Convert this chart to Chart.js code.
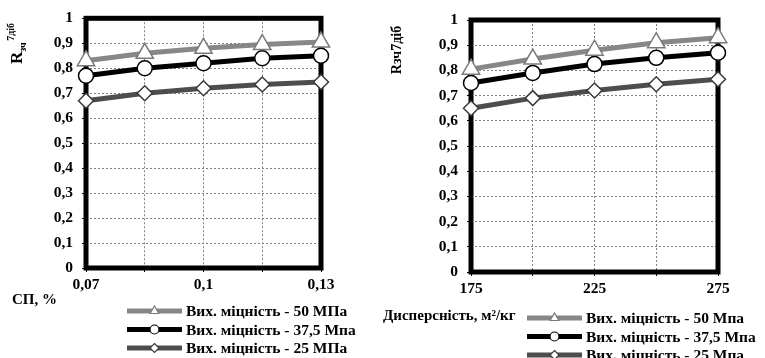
<!DOCTYPE html>
<html>
<head>
<meta charset="utf-8">
<script src="https://cdn.jsdelivr.net/npm/chart.js@4"></script>
<style>
  body { margin: 0; background: #fff; }
  canvas { position: absolute; top: 0; }
</style>
</head>
<body>
<canvas id="chartSP" width="380" height="358" style="left:0"></canvas>
<canvas id="chartDisp" width="385" height="358" style="left:380px"></canvas>
<script>
/* two charts: relative strength vs SP dose and vs dispersity */

let sp_values = [0.07, 0.085, 0.1, 0.115, 0.13];
let sp_tick_labels = ["0,07", "", "0,1", "", "0,13"];
let sp_50 = [0.83, 0.86, 0.88, 0.895, 0.905];
let sp_375 = [0.77, 0.80, 0.82, 0.84, 0.85];
let sp_25 = [0.67, 0.70, 0.72, 0.735, 0.745];
let sp_names = ["Вих. міцність - 50 МПа", "Вих. міцність - 37,5 Мпа", "Вих. міцність - 25 МПа"];

let disp_values = [175, 200, 225, 250, 275];
let disp_tick_labels = ["175", "", "225", "", "275"];
let disp_50 = [0.805, 0.845, 0.88, 0.91, 0.93];
let disp_375 = [0.75, 0.79, 0.825, 0.85, 0.87];
let disp_25 = [0.65, 0.69, 0.72, 0.745, 0.765];
let disp_names = ["Вих. міцність - 50 Мпа", "Вих. міцність - 37,5 Мпа", "Вих. міцність - 25 Мпа"];

const FONT = "'Liberation Serif', 'Times New Roman', serif";

let styles = [
  { color: "#878787", point: "triangle", radius: 10, edge: "#7a7a7a", small: 5 },
  { color: "#000000", point: "circle", radius: 7.5, edge: "#000000", small: 4.5 },
  { color: "#4d4d4d", point: "rectRot", radius: 7.5, edge: "#3a3a3a", small: 4.5 },
];

function make_datasets(names, series) {
  return series.map(function (vals, i) {
    let s = styles[i];
    return {
      label: names[i],
      data: vals,
      borderColor: s.color,
      borderWidth: 5,
      pointStyle: s.point,
      pointRadius: s.radius,
      pointBackgroundColor: "#fff",
      pointBorderColor: s.edge,
      pointBorderWidth: 1.5,
      clip: false,
    };
  });
}

function fmt_y(v) {
  let r = Math.round(v * 10) / 10;
  if (r === 0) return "0";
  if (r === 1) return "1";
  return r.toFixed(1).replace(".", ",");
}

// thick frame round the plot area
let framePlugin = {
  id: "frame",
  beforeDatasetsDraw(chart) {
    let a = chart.chartArea;
    let ctx = chart.ctx;
    ctx.save();
    ctx.strokeStyle = "#000";
    ctx.lineWidth = 5;
    ctx.strokeRect(a.left, a.top, a.right - a.left, a.bottom - a.top);
    ctx.restore();
  },
};

function draw_marker(ctx, s, x, y, r) {
  ctx.save();
  ctx.fillStyle = "#fff";
  ctx.strokeStyle = s.edge;
  ctx.lineWidth = 1.2;
  ctx.beginPath();
  if (s.point === "circle") {
    ctx.arc(x, y, r, 0, Math.PI * 2);
  } else if (s.point === "triangle") {
    ctx.moveTo(x, y - r);
    ctx.lineTo(x + r * 0.87, y + r * 0.5);
    ctx.lineTo(x - r * 0.87, y + r * 0.5);
    ctx.closePath();
  } else {
    ctx.moveTo(x, y - r);
    ctx.lineTo(x + r, y);
    ctx.lineTo(x, y + r);
    ctx.lineTo(x - r, y);
    ctx.closePath();
  }
  ctx.fill();
  ctx.stroke();
  ctx.restore();
}

// legend, axis titles
let textPlugin = {
  id: "texts",
  afterDraw(chart, args, opts) {
    let ctx = chart.ctx;
    ctx.save();
    ctx.fillStyle = "#000";
    ctx.textBaseline = "middle";
    ctx.textAlign = "left";

    // x title
    ctx.font = "bold 15px " + FONT;
    ctx.fillText(opts.xTitle, opts.xTitleX, opts.xTitleY);

    // legend
    chart.data.datasets.forEach(function (ds, i) {
      let s = styles[i];
      let y = opts.legendY + i * opts.legendStep;
      ctx.strokeStyle = s.color;
      ctx.lineWidth = 5;
      ctx.beginPath();
      ctx.moveTo(opts.legendX, y);
      ctx.lineTo(opts.legendX + 55, y);
      ctx.stroke();
      draw_marker(ctx, s, opts.legendX + 27.5, y, s.small);
      ctx.fillStyle = "#000";
      ctx.font = "bold 15.5px " + FONT;
      ctx.fillText(ds.label, opts.legendX + 59, y + 1);
    });

    // y title, rotated
    ctx.translate(opts.yTitleX, opts.yTitleY);
    ctx.rotate(-Math.PI / 2);
    ctx.textBaseline = "alphabetic";
    if (opts.yTitleRich) {
      ctx.font = "bold 17px " + FONT;
      ctx.fillText("R", 0, 0);
      let w = ctx.measureText("R").width;
      ctx.font = "bold 10px " + FONT;
      ctx.fillText("зч", w, 4);
      ctx.fillText("7діб", w + 11, -8);
    } else {
      ctx.font = "bold 14px " + FONT;
      ctx.textAlign = "center";
      ctx.fillText(opts.yTitle, 0, 0);
    }
    ctx.restore();
  },
};

function build_chart(id, cats, tickLabels, series, names, layout) {
  new Chart(id, {
    type: "line",
    data: {
      labels: cats,
      datasets: make_datasets(names, series),
    },
    plugins: [framePlugin, textPlugin],
    options: {
      responsive: false,
      animation: false,
      layout: { padding: layout.padding },
      plugins: {
        legend: { display: false },
        tooltip: { enabled: false },
        texts: layout.texts,
      },
      scales: {
        x: {
          offset: false,
          grid: { color: "#808080", tickColor: "#000", tickLength: 4 },
          border: { display: false, dash: [2, 2] },
          ticks: {
            autoSkip: false,
            maxRotation: 0,
            color: "#000",
            padding: 4,
            font: { family: FONT, size: 15.5, weight: "bold" },
            callback: function (v, i) { return tickLabels[i]; },
          },
          afterFit: function (s) { s.height = 28; },
        },
        y: {
          min: 0,
          max: 1,
          grid: { color: "#808080", tickColor: "#000", tickLength: 4 },
          border: { display: false, dash: [2, 2] },
          ticks: {
            stepSize: 0.1,
            color: "#000",
            padding: 9,
            font: { family: FONT, size: 15.5, weight: "bold" },
            callback: fmt_y,
          },
          afterFit: function (s) { s.width = layout.yWidth; },
        },
      },
    },
  });
}

build_chart("chartSP", sp_values, sp_tick_labels, [sp_50, sp_375, sp_25], sp_names, {
  padding: { left: 0, right: 59, top: 12, bottom: 62 },
  yWidth: 86,
  texts: {
    xTitle: "СП, %", xTitleX: 12, xTitleY: 300,
    legendX: 127, legendY: 311, legendStep: 18.5,
    yTitleRich: true, yTitleX: 22, yTitleY: 64,
  },
});

build_chart("chartDisp", disp_values, disp_tick_labels, [disp_50, disp_375, disp_25], disp_names, {
  padding: { left: 0, right: 47, top: 20, bottom: 58 },
  yWidth: 91,
  texts: {
    xTitle: "Дисперсність, м²/кг", xTitleX: 3, xTitleY: 316,
    legendX: 147, legendY: 318, legendStep: 18.5,
    yTitleRich: false, yTitle: "Rзч7діб", yTitleX: 21, yTitleY: 50,
  },
});
</script>
</body>
</html>
